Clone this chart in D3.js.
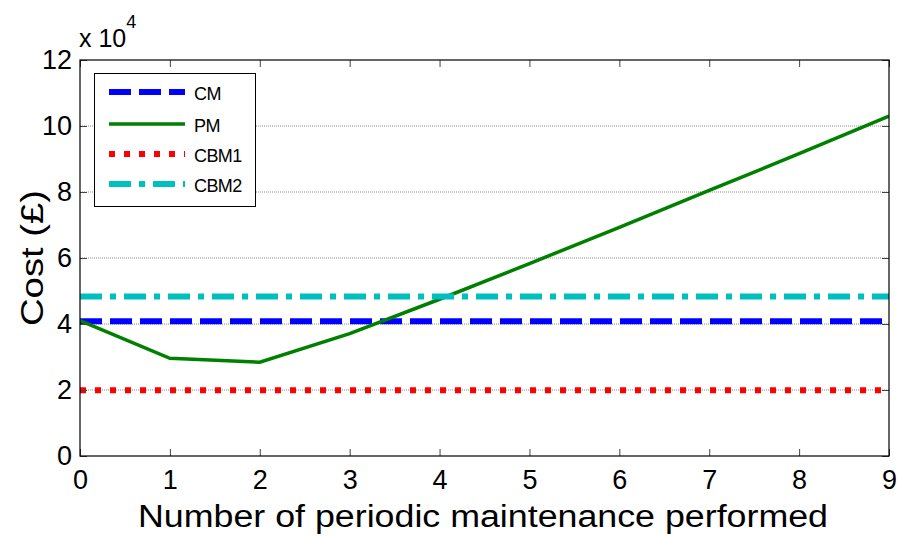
<!DOCTYPE html>
<html lang="en">
<head>
  <meta charset="UTF-8">
  <title>Cost vs periodic maintenance</title>
  <script src="https://d3js.org/d3.v7.min.js"></script>
  <style>
    body { margin: 0; background: #fff; font-family: 'Liberation Sans', Arial, sans-serif; }
    .tick text { fill: #000; }
  </style>
</head>
<body>
  <svg width="900" height="537"></svg>
  <script>
    const xTicks = [0, 1, 2, 3, 4, 5, 6, 7, 8, 9];
    const yTicks = [0, 2, 4, 6, 8, 10, 12];
    const pmCost = [41000, 29600, 28400, 37100, 47500, 58300, 69300, 80500, 91600, 103000];
    const cmCost = 40800;
    const cbm1Cost = 19900;
    const cbm2Cost = 48300;

    const series = [
      { name: "CM", color: "#0000ff", width: 6, dash: "22,8", values: xTicks.map(() => cmCost) },
      { name: "PM", color: "#008000", width: 3.5, dash: null, values: pmCost },
      { name: "CBM1", color: "#ff0000", width: 6, dash: "6,9", values: xTicks.map(() => cbm1Cost) },
      { name: "CBM2", color: "#00bfbf", width: 6, dash: "22,8,6,8", values: xTicks.map(() => cbm2Cost) }
    ];

    const plotL = 80, plotR = 889, plotT = 60, plotB = 456;
    const svg = d3.select("svg");
    const x = d3.scaleLinear().domain([0, 9]).range([plotL, plotR]);
    const y = d3.scaleLinear().domain([0, 120000]).range([plotB, plotT]);

    // horizontal grid
    svg.append("g")
      .selectAll("line")
      .data(yTicks.slice(1, -1))
      .join("line")
      .attr("x1", plotL).attr("x2", plotR)
      .attr("y1", d => y(d * 1e4)).attr("y2", d => y(d * 1e4))
      .attr("stroke", "#8c8c8c").attr("stroke-width", 1)
      .attr("stroke-dasharray", "1,1");

    // data lines (clipped to axes)
    svg.append("clipPath").attr("id", "clip")
      .append("rect").attr("x", plotL).attr("y", plotT)
      .attr("width", plotR - plotL).attr("height", plotB - plotT);

    const line = d3.line().x((d, i) => x(xTicks[i])).y(d => y(d));
    svg.append("g").attr("clip-path", "url(#clip)")
      .selectAll("path")
      .data(series)
      .join("path")
      .attr("fill", "none")
      .attr("stroke", d => d.color)
      .attr("stroke-width", d => d.width)
      .attr("stroke-dasharray", d => d.dash)
      .attr("d", d => line(d.values));

    // axes
    const fontSize = "27px";
    const xAxis = svg.append("g").attr("transform", `translate(0,${plotB})`)
      .call(d3.axisBottom(x).tickValues(xTicks).tickSize(-7).tickPadding(14).tickFormat(d3.format("d")));
    xAxis.selectAll("text").attr("font-size", fontSize).attr("font-family", "'Liberation Sans', Arial, sans-serif");
    svg.append("g").attr("transform", `translate(0,${plotT})`)
      .call(d3.axisTop(x).tickValues(xTicks).tickSize(-7).tickFormat(""));

    const yAxis = svg.append("g").attr("transform", `translate(${plotL},0)`)
      .call(d3.axisLeft(y).tickValues(yTicks.map(d => d * 1e4)).tickSize(-7).tickPadding(8)
        .tickFormat(d => d / 1e4));
    yAxis.selectAll("text").attr("font-size", fontSize).attr("font-family", "'Liberation Sans', Arial, sans-serif");
    svg.append("g").attr("transform", `translate(${plotR},0)`)
      .call(d3.axisRight(y).tickValues(yTicks.map(d => d * 1e4)).tickSize(-7).tickFormat(""));

    svg.selectAll(".domain").remove();
    svg.selectAll(".tick line").attr("stroke", "#444");

    svg.append("rect")
      .attr("x", plotL).attr("y", plotT)
      .attr("width", plotR - plotL).attr("height", plotB - plotT)
      .attr("fill", "none").attr("stroke", "#000").attr("stroke-width", 1.2);

    // exponent label
    const exp = svg.append("text").attr("x", 79).attr("y", 47)
      .attr("font-size", "25px").attr("fill", "#000");
    exp.append("tspan").text("x 10");
    exp.append("tspan").attr("dy", -19).attr("font-size", "18px").text("4");

    // axis titles
    svg.append("text")
      .attr("x", 138).attr("y", 527)
      .attr("font-size", "31px").attr("fill", "#000")
      .attr("textLength", 690).attr("lengthAdjust", "spacingAndGlyphs")
      .text("Number of periodic maintenance performed");
    svg.append("text")
      .attr("transform", `translate(43,${(plotT + plotB) / 2}) rotate(-90)`)
      .attr("text-anchor", "middle").attr("font-size", "31px").attr("fill", "#000")
      .attr("textLength", 136).attr("lengthAdjust", "spacingAndGlyphs")
      .text("Cost (£)");

    // legend
    const lg = svg.append("g");
    lg.append("rect").attr("x", 94.5).attr("y", 73.5).attr("width", 161).attr("height", 133)
      .attr("fill", "#fff").attr("stroke", "#000").attr("stroke-width", 1);
    const rowY = [92, 124, 154, 184];
    series.forEach((s, i) => {
      lg.append("line")
        .attr("x1", 109).attr("x2", 185)
        .attr("y1", rowY[i]).attr("y2", rowY[i])
        .attr("stroke", s.color)
        .attr("stroke-width", s.width)
        .attr("stroke-dasharray", s.dash);
      lg.append("text")
        .attr("x", 194).attr("y", rowY[i] + 8)
        .attr("font-size", "18px").attr("fill", "#000")
        .attr("letter-spacing", "-0.6")
        .text(s.name);
    });
  </script>
</body>
</html>
